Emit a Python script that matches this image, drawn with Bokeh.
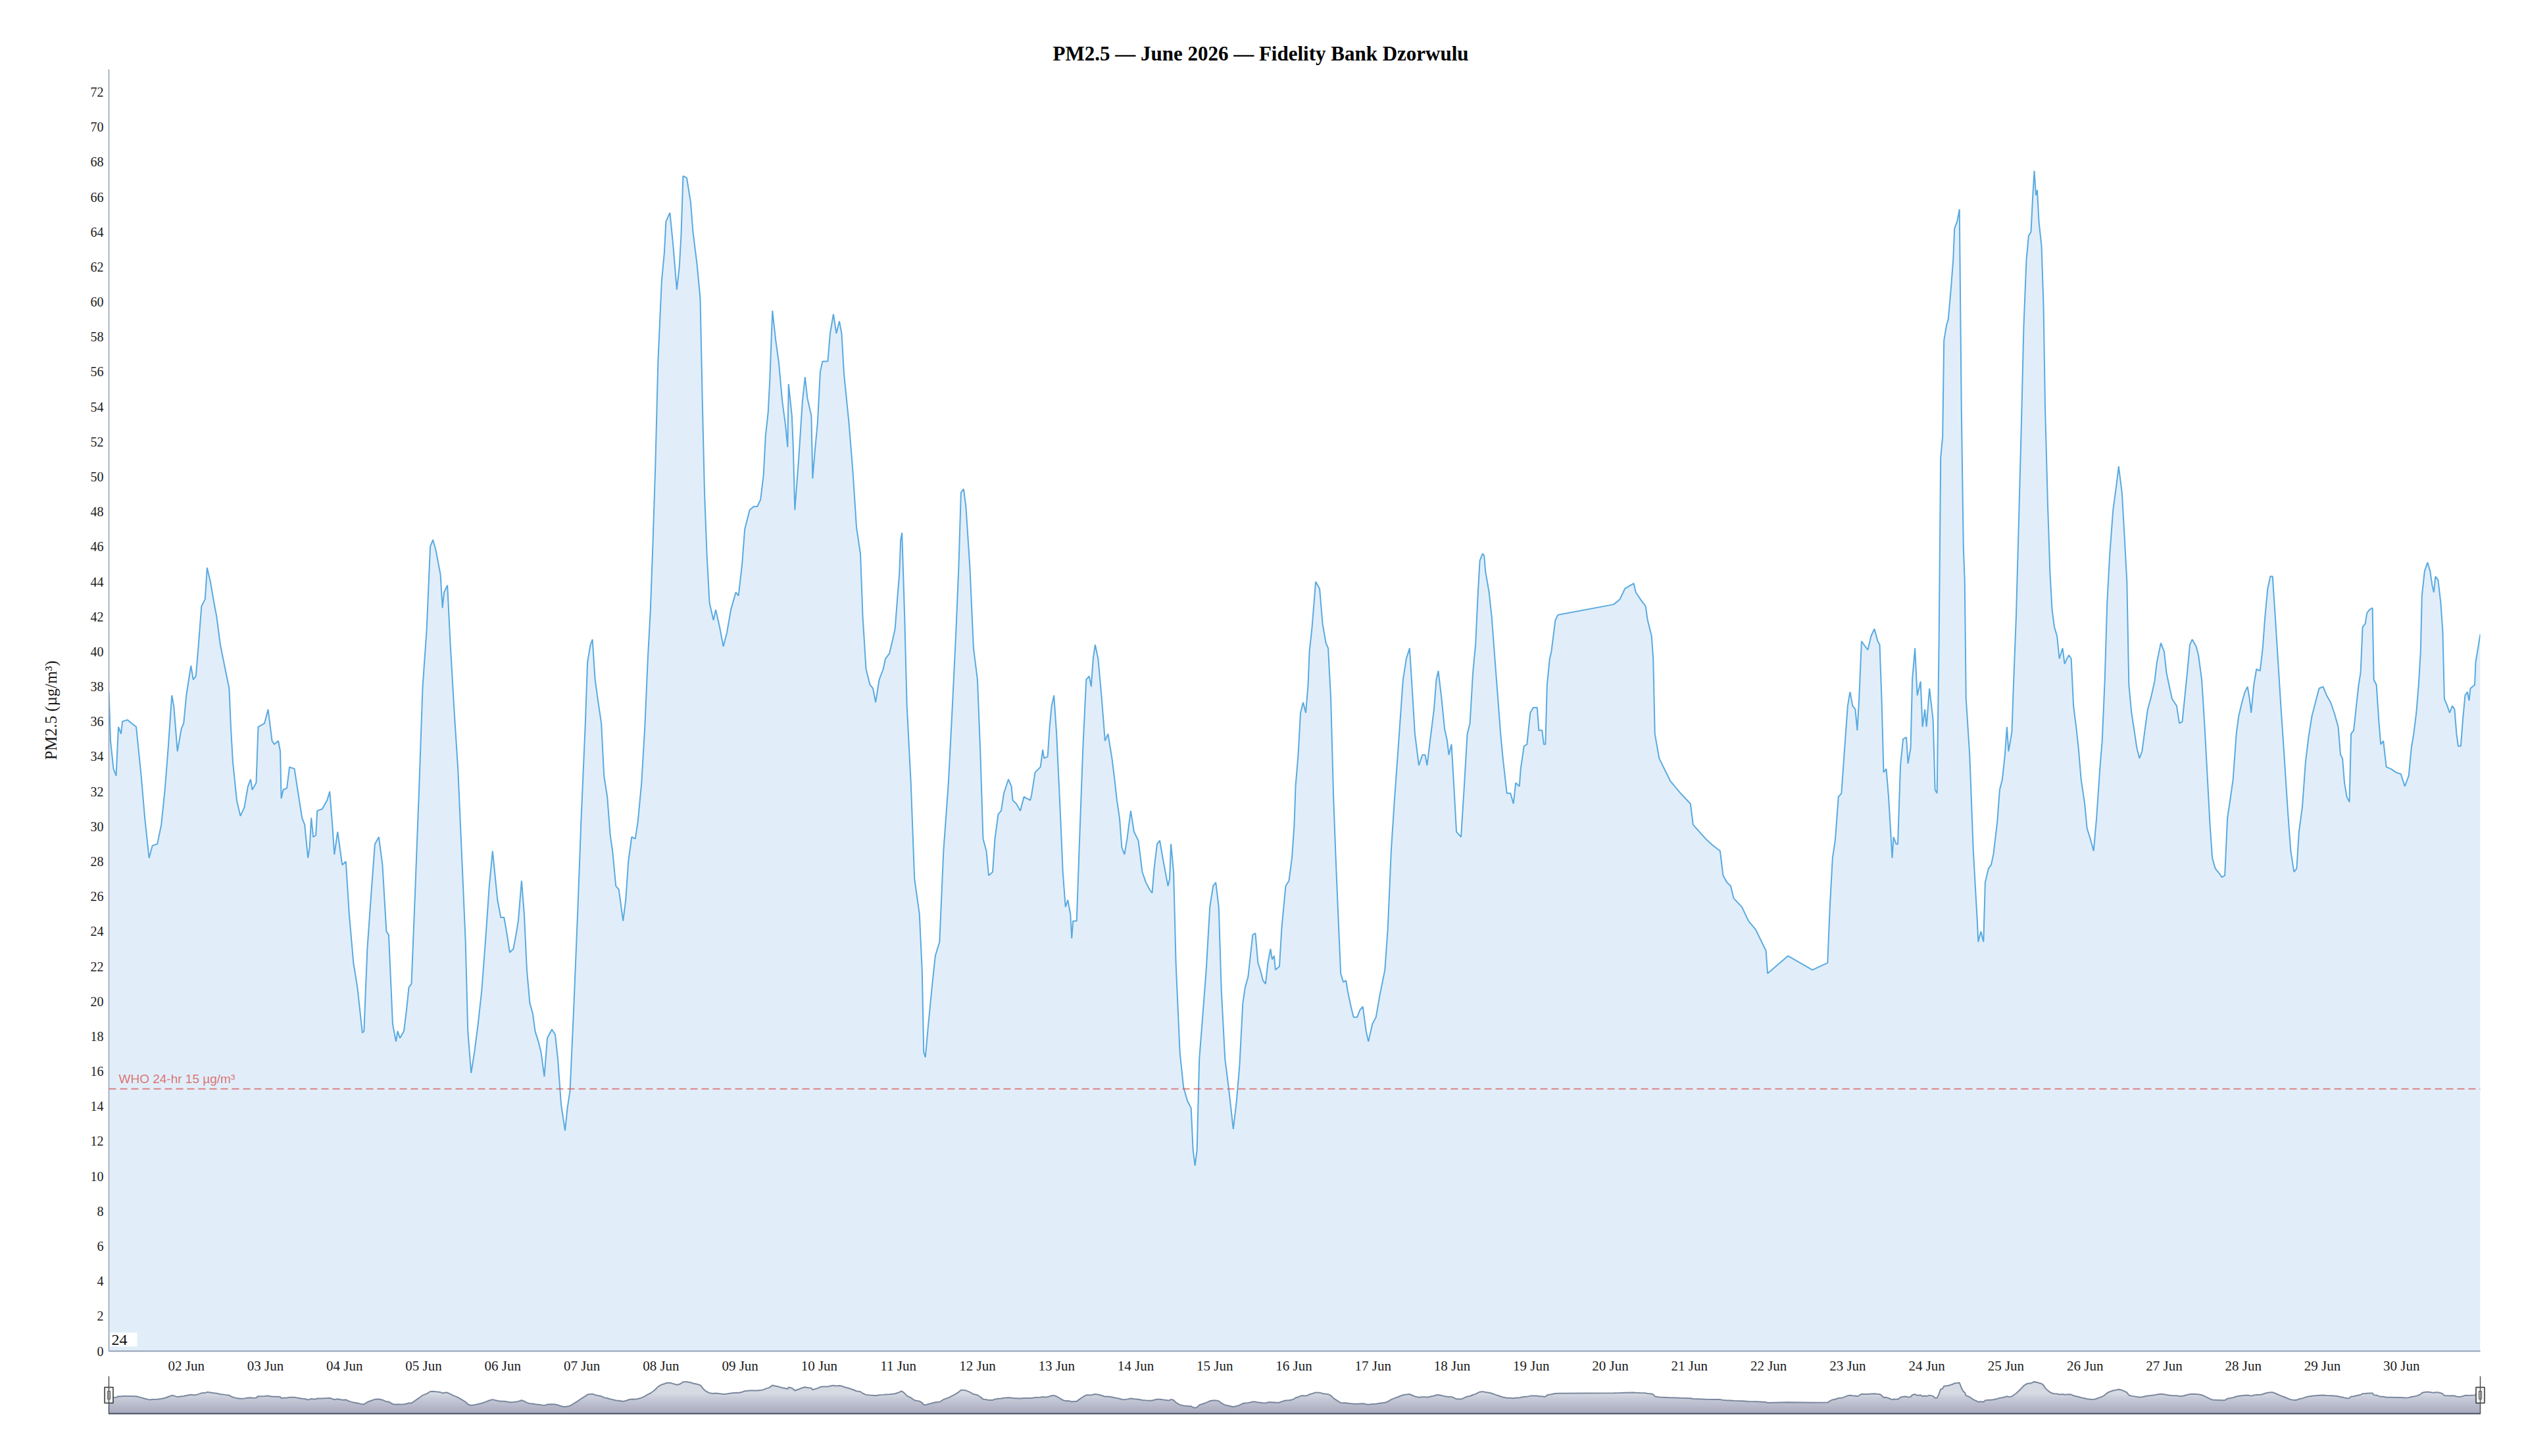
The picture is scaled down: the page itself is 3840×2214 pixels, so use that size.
import numpy as np
from bokeh.plotting import figure
from bokeh.layouts import column
from bokeh.models import Range1d, FixedTicker, DatetimeTickFormatter, Span, Label
from bokeh.core.properties import value
from bokeh.embed import file_html
from bokeh.resources import INLINE

# ---------------- data ----------------
TITLE = "PM2.5 \u2014 June 2026 \u2014 Fidelity Bank Dzorwulu"
Y_LABEL = "PM2.5 (\u00b5g/m\u00b3)"
WHO_LABEL = "WHO 24-hr 15 \u00b5g/m\u00b3"
WHO_LIMIT = 15
RANGE_BOX_TEXT = "24"
MONTH_START = np.datetime64("2026-06-01T00:00")
Y_TICKS = list(range(0, 73, 2))
X_TICK_DAYS = list(range(2, 31))   # 02 Jun ... 30 Jun

# hours since 2026-06-01 00:00
hours = [
    0.5, 1.0, 1.9, 2.7, 3.4, 4.2, 4.6, 6.1, 8.8, 10.3, 11.4, 12.7, 13.7, 15.2, 16.4, 17.5, 18.5, 19.6, 20.2, 21.3,
    22.5, 23.2, 24.0, 25.4, 26.1, 26.9, 27.7, 28.6, 29.7, 30.3, 31.3, 32.4, 33.2, 34.3, 35.8, 37.0, 37.5, 38.1, 39.3, 40.4,
    41.6, 42.7, 43.5, 44.0, 45.2, 45.8, 47.7, 48.8, 50.0, 50.7, 51.9, 52.5, 52.8, 53.4, 54.5, 55.3, 56.8, 57.6, 59.1, 59.9,
    60.9, 61.4, 61.9, 62.5, 63.3, 63.7, 65.2, 66.7, 67.5, 68.3, 68.9, 69.9, 71.3, 72.4, 73.4, 74.7, 75.9, 77.4, 77.9, 78.9,
    80.1, 81.2, 82.4, 83.5, 84.7, 85.4, 86.6, 87.6, 88.1, 88.8, 90.0, 90.8, 91.5, 92.3, 93.4, 94.6, 95.7, 96.9, 98.0, 98.8,
    99.7, 100.7, 101.1, 101.7, 102.2, 103.2, 104.1, 105.3, 106.4, 107.5, 108.7, 109.4, 110.4, 111.4, 112.5, 113.6, 114.8, 115.9, 116.9, 118.4,
    119.4, 120.4, 121.3, 122.1, 123.2, 124.0, 124.7, 125.7, 126.5, 127.3, 128.2, 129.1, 129.8, 130.8, 131.6, 132.6, 133.5, 134.9, 135.9, 136.7,
    137.7, 138.9, 139.6, 140.4, 141.5, 142.7, 143.8, 145.0, 145.7, 146.6, 147.2, 148.0, 148.8, 149.9, 150.7, 151.7, 152.6, 153.3, 154.3, 155.2,
    156.5, 157.3, 158.1, 159.1, 160.2, 161.0, 162.1, 163.1, 164.0, 164.8, 165.5, 166.3, 167.1, 168.2, 169.0, 169.5, 170.7, 171.6, 172.8, 173.6,
    174.1, 174.7, 175.8, 177.0, 177.7, 178.9, 179.9, 180.6, 181.2, 181.9, 182.7, 183.9, 184.6, 185.8, 186.9, 188.0, 189.2, 190.7, 191.5, 192.6,
    193.4, 194.9, 196.1, 197.2, 198.2, 199.1, 199.7, 200.5, 201.0, 201.8, 202.8, 203.7, 204.8, 205.8, 206.4, 206.7, 207.7, 208.1, 208.6, 209.8,
    210.9, 211.7, 212.4, 213.6, 214.0, 214.7, 215.5, 216.3, 217.0, 218.6, 219.3, 220.3, 221.2, 222.1, 222.8, 223.5, 225.0, 226.2, 227.3, 228.5,
    229.2, 230.2, 231.4, 232.3, 233.1, 234.2, 235.4, 236.1, 237.3, 238.3, 239.0, 239.6, 240.3, 240.7, 241.1, 241.9, 242.6, 243.8, 244.9, 246.4,
    247.2, 247.7, 248.2, 249.1, 250.3, 251.2, 252.5, 253.7, 255.2, 256.4, 257.5, 258.3, 259.0, 259.8, 260.5, 261.7, 262.8, 264.0, 264.9, 265.7,
    266.7, 267.4, 268.6, 269.3, 270.3, 271.2, 272.0, 273.4, 274.3, 274.7, 275.8, 277.0, 278.1, 280.0, 280.4, 281.5, 283.1, 283.8, 284.2, 285.3,
    285.9, 286.5, 287.2, 288.0, 289.2, 289.9, 290.7, 291.4, 292.2, 292.6, 293.0, 294.1, 294.9, 296.0, 297.0, 297.9, 298.5, 299.1, 299.7, 300.6,
    301.7, 302.7, 303.6, 304.8, 305.6, 306.3, 307.1, 307.8, 308.6, 309.4, 310.5, 311.5, 312.8, 314.0, 315.1, 316.2, 317.0, 317.6, 318.5, 319.3,
    320.4, 321.8, 322.3, 322.7, 323.5, 324.2, 325.4, 326.5, 327.7, 328.8, 329.4, 330.0, 330.6, 331.3, 332.3, 333.4, 334.5, 335.5, 336.3, 337.2,
    338.0, 339.1, 340.3, 341.6, 342.6, 343.5, 344.5, 345.2, 346.1, 347.5, 348.3, 349.1, 349.8, 350.6, 351.4, 352.1, 352.9, 353.4, 354.0, 354.4,
    355.6, 356.3, 357.5, 358.5, 359.4, 360.1, 360.5, 361.3, 362.0, 362.8, 363.6, 364.3, 364.7, 365.5, 366.1, 366.6, 367.8, 368.7, 369.7, 370.4,
    371.2, 372.0, 372.7, 373.5, 374.2, 375.0, 375.8, 376.3, 377.3, 378.1, 379.2, 380.0, 380.9, 381.9, 382.6, 383.8, 384.9, 386.1, 387.6, 388.5,
    389.5, 390.5, 391.8, 393.1, 394.1, 395.1, 395.8, 396.7, 397.9, 399.0, 399.8, 400.4, 401.3, 402.5, 403.2, 403.8, 404.8, 405.7, 406.5, 407.0,
    407.8, 408.6, 409.3, 410.7, 411.6, 412.6, 413.4, 414.3, 415.1, 415.8, 416.4, 417.2, 417.7, 418.1, 419.2, 420.0, 421.2, 421.9, 422.7, 423.4,
    424.6, 425.7, 426.6, 427.3, 428.4, 428.8, 429.8, 430.7, 431.7, 432.6, 433.8, 434.3, 435.3, 435.8, 436.3, 436.8, 437.6, 438.1, 438.9, 439.3,
    440.1, 457.0, 458.9, 460.4, 463.1, 463.7, 465.1, 466.7, 467.3, 468.5, 469.0, 469.5, 470.8, 474.2, 477.3, 480.3, 481.1, 484.9, 487.2, 489.3,
    490.2, 491.4, 492.5, 493.4, 495.9, 497.9, 500.1, 503.2, 503.7, 509.9, 517.3, 521.9, 522.6, 523.4, 524.2, 525.2, 526.1, 527.0, 528.0, 528.7,
    529.5, 530.3, 530.9, 531.4, 532.2, 533.3, 534.1, 535.1, 536.1, 537.1, 537.7, 538.3, 538.9, 539.7, 540.4, 541.5, 541.9, 542.7, 543.2, 544.0,
    544.8, 545.8, 546.3, 547.1, 547.6, 548.4, 549.1, 550.1, 550.7, 551.4, 551.9, 552.8, 553.9, 554.5, 555.1, 555.7, 556.2, 556.8, 557.2, 558.0,
    558.5, 559.3, 560.0, 560.4, 561.2, 561.9, 562.5, 563.1, 563.5, 563.9, 565.0, 566.1, 567.3, 567.6, 568.4, 569.2, 569.7, 570.7, 571.5, 572.2,
    573.4, 574.1, 574.9, 575.7, 576.3, 576.8, 577.8, 578.3, 579.1, 579.9, 580.7, 581.4, 582.2, 582.9, 583.6, 584.1, 584.6, 585.1, 585.5, 586.0,
    586.8, 587.4, 587.9, 588.7, 589.4, 590.0, 590.7, 591.5, 592.2, 593.2, 593.8, 594.5, 595.1, 595.8, 596.5, 597.3, 598.0, 598.8, 599.9, 600.6,
    601.6, 602.6, 603.5, 604.5, 605.2, 606.0, 606.7, 607.5, 608.5, 609.5, 610.2, 611.2, 611.9, 612.7, 613.3, 614.1, 615.0, 615.7, 616.5, 617.3,
    618.0, 619.0, 619.9, 621.1, 621.8, 623.0, 624.0, 624.7, 625.7, 626.4, 627.8, 628.6, 629.5, 630.2, 631.0, 631.8, 632.5, 633.7, 634.4, 635.4,
    636.3, 637.1, 637.9, 638.6, 639.5, 640.8, 641.5, 642.4, 643.2, 644.0, 644.9, 645.9, 646.6, 647.6, 648.5, 649.3, 649.9, 650.4, 651.2, 652.0,
    653.1, 653.9, 654.6, 655.4, 656.2, 656.9, 657.7, 658.5, 659.4, 660.4, 661.5, 662.4, 663.4, 664.2, 664.9, 665.9, 666.9, 667.8, 668.8, 669.9,
    671.0, 672.2, 673.3, 674.5, 675.6, 676.8, 677.5, 678.1, 678.7, 679.4, 680.2, 680.7, 681.5, 682.3, 683.0, 683.6, 684.2, 685.0, 685.5, 686.3,
    687.2, 687.6, 688.4, 689.1, 689.7, 690.5, 691.4, 692.8, 694.3, 695.8, 697.0, 698.2, 699.0, 699.7, 700.5, 701.2, 701.8, 702.2, 703.0, 703.9,
    704.7, 705.3, 705.8, 706.3, 707.1, 707.9, 708.5, 709.0, 709.9, 710.6, 711.4, 712.1, 712.7, 713.2, 714.0, 714.6, 715.3, 716.0, 716.5, 716.9,
    718.2, 718.5, 719.9,
]

pm25 = [
    37.7, 34.9, 33.3, 32.9, 35.7, 35.3, 36.0, 36.1, 35.7, 32.9, 30.5, 28.2, 28.9, 29.0, 30.1, 32.1, 34.5, 37.5, 36.9, 34.3,
    35.6, 35.9, 37.5, 39.2, 38.4, 38.6, 40.4, 42.6, 43.0, 44.8, 44.0, 42.8, 42.0, 40.4, 39.0, 37.9, 35.7, 33.7, 31.5, 30.6,
    31.1, 32.3, 32.7, 32.1, 32.5, 35.7, 35.9, 36.7, 34.9, 34.7, 34.9, 34.3, 31.6, 32.1, 32.2, 33.4, 33.3, 32.3, 30.5, 30.1,
    28.2, 28.8, 30.5, 29.4, 29.5, 30.9, 31.0, 31.5, 32.0, 30.1, 28.4, 29.7, 27.8, 28.0, 25.0, 22.2, 20.8, 18.2, 18.3, 23.0,
    26.2, 29.0, 29.4, 27.8, 24.0, 23.8, 18.7, 17.7, 18.3, 17.9, 18.3, 19.5, 20.8, 21.0, 26.2, 32.1, 38.0, 41.2, 46.0, 46.4,
    45.8, 44.8, 44.4, 42.5, 43.4, 43.8, 40.4, 36.5, 33.3, 28.6, 23.4, 18.3, 15.9, 17.1, 18.7, 20.6, 23.6, 26.6, 28.6, 25.8,
    24.8, 24.8, 23.8, 22.8, 23.0, 23.8, 24.6, 26.9, 25.0, 21.8, 19.9, 19.3, 18.3, 17.7, 17.1, 15.7, 17.9, 18.4, 18.1, 16.7,
    14.1, 12.6, 13.9, 14.9, 19.5, 25.0, 30.5, 35.7, 39.4, 40.4, 40.7, 38.4, 37.3, 35.9, 32.9, 31.7, 29.5, 28.6, 26.6, 26.4,
    24.6, 25.8, 28.0, 29.4, 29.3, 30.3, 32.5, 35.7, 39.6, 42.4, 46.0, 50.7, 56.6, 61.2, 62.8, 64.6, 65.1, 63.4, 60.7, 62.1,
    63.8, 67.2, 67.1, 65.7, 64.0, 62.2, 60.2, 53.9, 49.1, 45.6, 42.8, 41.8, 42.4, 41.4, 40.3, 41.1, 42.4, 43.4, 43.2, 45.0,
    47.0, 48.1, 48.3, 48.3, 48.7, 50.1, 52.3, 53.7, 55.5, 59.5, 57.8, 56.6, 54.3, 52.9, 51.7, 55.3, 53.5, 51.7, 48.1, 51.1,
    54.3, 55.7, 54.5, 53.5, 49.9, 51.5, 53.1, 56.0, 56.6, 56.6, 58.2, 59.3, 58.2, 58.9, 58.2, 55.9, 53.1, 50.3, 47.1, 45.6,
    42.0, 39.0, 38.1, 37.9, 37.1, 38.4, 39.0, 39.6, 39.9, 40.7, 41.3, 42.8, 44.4, 46.4, 46.8, 42.0, 36.9, 32.5, 27.0, 25.0,
    21.8, 17.1, 16.8, 18.7, 21.0, 22.6, 23.4, 28.6, 32.5, 36.9, 41.2, 44.8, 49.1, 49.3, 48.3, 44.8, 40.2, 38.4, 34.1, 29.3,
    28.6, 27.2, 27.4, 29.3, 30.7, 30.9, 31.9, 32.7, 32.3, 31.5, 31.3, 30.9, 31.7, 31.5, 31.8, 33.1, 33.4, 34.4, 33.9, 34.0,
    35.7, 36.9, 37.5, 35.3, 30.5, 27.4, 25.4, 25.8, 25.0, 23.6, 24.6, 24.6, 28.9, 34.5, 38.4, 38.6, 38.0, 39.6, 40.4, 39.6,
    37.3, 34.9, 35.3, 33.9, 32.7, 31.5, 30.5, 28.8, 28.4, 29.3, 30.9, 29.7, 29.2, 27.4, 26.8, 26.4, 26.2, 27.6, 29.0, 29.2,
    28.0, 26.6, 27.0, 29.0, 27.4, 22.2, 17.1, 15.1, 14.3, 13.9, 11.5, 10.6, 11.5, 16.7, 19.1, 21.8, 25.4, 26.6, 26.8, 25.4,
    20.6, 16.7, 14.9, 12.7, 14.3, 16.3, 19.9, 20.8, 21.4, 23.8, 23.9, 22.2, 21.8, 21.2, 21.0, 22.2, 23.0, 22.4, 22.6, 21.8,
    22.0, 24.2, 26.6, 26.9, 28.2, 30.1, 32.3, 34.1, 36.5, 37.1, 36.5, 38.1, 40.0, 41.4, 42.8, 44.0, 43.6, 41.6, 40.5, 40.2,
    37.3, 31.7, 28.2, 24.6, 21.6, 21.1, 21.2, 20.6, 19.7, 19.1, 19.1, 19.5, 19.7, 18.3, 17.7, 18.7, 19.1, 20.4, 21.8, 24.2,
    28.6, 31.5, 34.9, 38.4, 39.6, 40.2, 38.1, 35.3, 33.5, 34.1, 34.1, 33.5, 34.9, 36.7, 38.4, 38.9, 37.3, 35.6, 34.9, 34.1,
    34.7, 32.1, 29.7, 29.4, 32.1, 35.3, 35.9, 38.8, 40.4, 43.2, 45.2, 45.6, 45.5, 44.6, 43.4, 42.0, 39.0, 37.3, 35.3, 33.9,
    31.9, 31.9, 31.3, 32.5, 32.3, 33.3, 34.6, 34.7, 36.5, 36.8, 36.8, 35.5, 35.5, 34.7, 34.7, 38.1, 39.6, 40.0, 41.2, 41.8,
    42.1, 42.7, 43.0, 43.6, 43.9, 43.4, 43.0, 42.6, 41.8, 40.9, 39.6, 35.3, 33.9, 32.6, 31.9, 31.3, 30.1, 29.3, 28.9, 28.6,
    27.2, 26.8, 26.6, 25.9, 25.4, 24.6, 24.1, 22.9, 21.6, 22.6, 21.8, 22.2, 25.4, 28.2, 29.2, 31.7, 31.9, 34.3, 36.9, 37.7,
    36.9, 36.7, 35.5, 37.1, 40.6, 40.3, 40.1, 40.9, 41.3, 40.6, 40.4, 37.3, 33.1, 33.3, 31.7, 28.2, 29.4, 29.0, 29.0, 33.5,
    35.0, 35.1, 33.6, 34.5, 38.4, 40.2, 37.5, 38.3, 35.7, 36.7, 35.7, 37.9, 36.1, 32.1, 31.9, 40.8, 51.1, 52.3, 57.8, 58.7,
    59.0, 60.7, 62.4, 64.2, 64.6, 65.3, 53.9, 46.0, 44.0, 37.3, 34.1, 28.6, 24.6, 23.4, 24.0, 23.4, 26.8, 27.6, 27.8, 28.4,
    30.3, 32.1, 32.7, 34.1, 35.7, 34.3, 35.4, 38.1, 42.0, 47.5, 53.1, 58.6, 62.4, 63.8, 64.0, 65.9, 67.5, 66.1, 66.4, 64.6,
    63.2, 59.8, 53.9, 48.3, 44.4, 42.4, 41.4, 40.9, 39.6, 40.2, 39.3, 39.6, 39.8, 39.6, 36.9, 35.7, 34.5, 32.7, 31.3, 29.9,
    29.3, 28.6, 30.5, 33.3, 34.9, 38.4, 42.8, 45.6, 48.1, 49.5, 50.6, 49.1, 46.8, 44.0, 38.1, 36.5, 35.4, 34.5, 33.9, 34.3,
    35.3, 36.7, 37.3, 38.3, 39.4, 40.5, 40.0, 38.8, 37.9, 37.3, 36.9, 35.9, 36.0, 37.3, 38.8, 40.4, 40.7, 40.3, 39.8, 38.4,
    35.7, 32.9, 30.1, 28.2, 27.6, 27.3, 27.1, 27.2, 30.5, 31.5, 32.7, 35.3, 36.3, 37.1, 37.7, 38.0, 37.3, 36.5, 38.1, 39.0,
    38.9, 40.2, 42.0, 43.6, 44.3, 44.3, 42.0, 39.6, 36.9, 34.1, 30.9, 28.6, 27.4, 27.6, 29.7, 31.1, 33.7, 35.1, 36.3, 37.1,
    37.9, 38.0, 37.5, 37.1, 36.5, 35.7, 34.1, 33.9, 32.5, 31.7, 31.4, 35.3, 35.5, 36.9, 38.1, 38.8, 41.4, 41.6, 42.2, 42.4,
    42.5, 38.4, 38.1, 36.1, 34.7, 34.9, 33.4, 33.3, 33.1, 33.0, 32.3, 32.9, 34.5, 35.3, 36.5, 38.1, 40.0, 43.2, 44.6, 45.1,
    44.6, 43.8, 43.4, 44.3, 44.1, 42.8, 41.2, 37.3, 36.9, 36.5, 36.9, 36.7, 35.3, 34.6, 34.6, 36.1, 37.5, 37.7, 37.2, 37.9,
    38.1, 39.4, 41.0,
]

# ---------------- derived (time in ms) ----------------
assert len(hours) == len(pm25)
base_ms = MONTH_START.astype("datetime64[ms]").astype(np.int64).astype(float)
HOUR_MS = 3600 * 1000.0
DAY_MS = 24 * HOUR_MS
t = base_ms + np.array(hours) * HOUR_MS
v = np.array(pm25)
day_ticks = [base_ms + (d - 1) * DAY_MS for d in X_TICK_DAYS]

SERIF = "Liberation Serif"
SANS = "Liberation Sans"
AXIS_COLOR = "#94a0b4"
TEXT_COLOR = "#1a1a1a"

W = 3832
FRAME_W = 3605
LEFT = 165
RIGHT = W - LEFT - FRAME_W
HEADER_H = 105
Y_MAX = 73.3

# ---------------- header (title, centred on the page) ----------------
h = figure(width=W, height=HEADER_H, x_range=Range1d(0, W), y_range=Range1d(0, HEADER_H),
           output_backend="svg", toolbar_location=None,
           min_border_left=0, min_border_right=0, min_border_top=0, min_border_bottom=0,
           x_axis_location=None, y_axis_location=None)
h.frame_align = False
h.outline_line_color = None
h.grid.visible = False
h.text(x=[1916], y=[HEADER_H - 81], text=[TITLE], text_font=value(SERIF),
       text_font_size="31px", text_font_style="bold", text_color="#000000",
       text_align="center", text_baseline="middle")

# ---------------- main chart ----------------
p = figure(width=W, height=2092 - HEADER_H, x_axis_type="datetime",
           x_range=Range1d(t[0], t[-1]), y_range=Range1d(0, Y_MAX),
           output_backend="svg", toolbar_location=None,
           min_border_left=LEFT, min_border_right=RIGHT,
           min_border_top=0, min_border_bottom=38)
p.frame_align = False
p.outline_line_color = None
p.grid.visible = False
p.background_fill_color = "white"
p.border_fill_color = "white"

p.varea(x=t, y1=0, y2=v, fill_color="#e1eefa")
p.line(t, v, line_color="#5aaae0", line_width=2)

p.add_layout(Span(location=WHO_LIMIT, dimension="width", line_color="#d9534f",
                  line_alpha=0.7, line_dash="11 6", line_width=2))
p.add_layout(Label(x=t[0], y=WHO_LIMIT, text=WHO_LABEL, x_offset=15, y_offset=5,
                   text_font=SANS, text_font_size="19px", text_color="#d9534f",
                   text_alpha=0.8, text_baseline="bottom", text_align="left"))
p.add_layout(Label(x=t[0], y=0, text=RANGE_BOX_TEXT, x_offset=2, y_offset=7,
                   text_font=SERIF, text_font_size="24px", text_color="#111111",
                   text_baseline="bottom", text_align="left",
                   background_fill_color="white",
                   padding=dict(left=2, right=15, top=3, bottom=3)))

xa = p.xaxis[0]
xa.ticker = FixedTicker(ticks=day_ticks)
xa.formatter = DatetimeTickFormatter(days="%d %b", hours="%d %b", months="%d %b",
                                     hourmin="%d %b", minutes="%d %b")
xa.major_tick_line_color = None
xa.minor_tick_line_color = None
xa.major_tick_out = 0
xa.major_tick_in = 0
xa.axis_line_color = AXIS_COLOR
xa.axis_line_width = 2
xa.major_label_text_font = SERIF
xa.major_label_text_font_size = "21px"
xa.major_label_text_color = TEXT_COLOR
xa.major_label_standoff = 10

ya = p.yaxis[0]
ya.ticker = FixedTicker(ticks=Y_TICKS)
ya.major_tick_line_color = None
ya.minor_tick_line_color = None
ya.major_tick_out = 0
ya.major_tick_in = 0
ya.axis_line_color = AXIS_COLOR
ya.axis_line_width = 1.5
ya.major_label_text_font = SERIF
ya.major_label_text_font_size = "20px"
ya.major_label_text_color = TEXT_COLOR
ya.major_label_standoff = 8
ya.axis_label = Y_LABEL
ya.axis_label_text_font = SERIF
ya.axis_label_text_font_size = "25px"
ya.axis_label_text_font_style = "normal"
ya.axis_label_text_color = TEXT_COLOR
ya.axis_label_standoff = 44

# ---------------- navigator ----------------
pad = (t[-1] - t[0]) * 8 / FRAME_W
NAV_LO, NAV_HI = -3.5, 79.7
n = figure(width=W, height=114, x_range=Range1d(t[0] - pad, t[-1] + pad),
           y_range=Range1d(NAV_LO, NAV_HI),
           output_backend="svg", toolbar_location=None,
           min_border_left=LEFT - 8, min_border_right=RIGHT - 8,
           min_border_top=0, min_border_bottom=56,
           x_axis_location=None, y_axis_location=None)
n.frame_align = False
n.outline_line_color = None
n.grid.visible = False
n.background_fill_color = "white"
n.border_fill_color = "white"

n.varea(x=t, y1=NAV_LO, y2=v, fill_color="#d6dae3")
for lvl in range(0, 44, 4):
    n.varea(x=t, y1=NAV_LO, y2=np.minimum(v, lvl), fill_color="#8793a8", fill_alpha=0.07)
n.line(t, v, line_color="#7b889d", line_width=2)
n.segment(x0=[t[0]], y0=[NAV_LO + 1.2], x1=[t[-1]], y1=[NAV_LO + 1.2],
          line_color="#4b515c", line_width=2.5)
for edge in (t[0], t[-1]):
    n.add_layout(Span(location=edge, dimension="height", line_color="#4b515c", line_width=1.5))
mid = (NAV_LO + NAV_HI) / 2
n.rect(x=[t[0], t[-1]], y=[mid, mid], width=13, height=24,
       width_units="screen", height_units="screen",
       fill_color="#f2f2f2", line_color="#333333", line_width=1.5)
n.rect(x=[t[0], t[-1]], y=[mid, mid], width=4, height=12,
       width_units="screen", height_units="screen",
       fill_color=None, line_color="#555555", line_width=1)

layout = column(h, p, n, spacing=0)
open("out.html", "w").write(file_html(layout, INLINE))
